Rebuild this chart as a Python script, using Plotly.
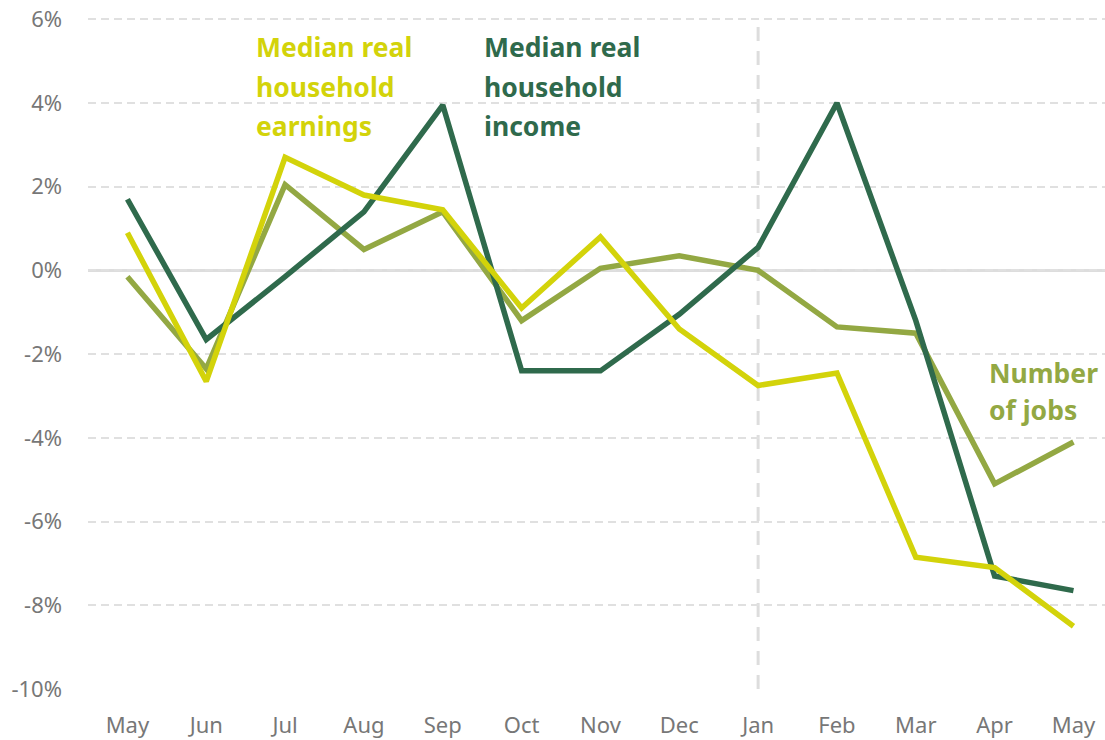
import plotly.graph_objects as go

months = ["May", "Jun", "Jul", "Aug", "Sep", "Oct", "Nov", "Dec", "Jan", "Feb", "Mar", "Apr", "May"]
income = [1.7, -1.65, -0.15, 1.4, 3.95, -2.4, -2.4, -1.05, 0.55, 4.0, -1.2, -7.3, -7.65]
earnings = [0.9, -2.65, 2.7, 1.8, 1.45, -0.9, 0.8, -1.4, -2.75, -2.45, -6.85, -7.1, -8.5]
jobs = [-0.15, -2.35, 2.05, 0.5, 1.4, -1.2, 0.05, 0.35, 0.0, -1.35, -1.5, -5.1, -4.1]
y_ticks = [-10, -8, -6, -4, -2, 0, 2, 4, 6]
y_tick_labels = ["-10%", "-8%", "-6%", "-4%", "-2%", "0%", "2%", "4%", "6%"]

C_INCOME = "#2f6a4c"
C_EARN = "#d3d30a"
C_JOBS = "#93a843"

x = list(range(len(months)))
fig = go.Figure()
fig.add_trace(go.Scatter(x=x, y=jobs, mode="lines", line=dict(color=C_JOBS, width=5.5), hoverinfo="skip"))
fig.add_trace(go.Scatter(x=x, y=income, mode="lines", line=dict(color=C_INCOME, width=5.5), hoverinfo="skip"))
fig.add_trace(go.Scatter(x=x, y=earnings, mode="lines", line=dict(color=C_EARN, width=5.5), hoverinfo="skip"))

fig.add_shape(type="line", x0=8, x1=8, y0=-10, y1=5.85, xref="x", yref="y",
              line=dict(color="#dddddd", width=3, dash="14px,10px"), layer="below")
fig.add_shape(type="line", x0=-0.5, x1=12.5, y0=0, y1=0, xref="x", yref="y",
              line=dict(color="#dddddd", width=3), layer="below")

font_lbl = dict(family="Noto Sans", size=26.5)
labels = [
    (1.61, [5.33, 4.39, 3.44], ["Median real", "household", "earnings"], C_EARN),
    (4.5, [5.33, 4.39, 3.44], ["Median real", "household", "income"], C_INCOME),
    (10.9, [-2.44, -3.34], ["Number", "of jobs"], C_JOBS),
]
for lx, ys, lines, col in labels:
    for ly, t in zip(ys, lines):
        fig.add_annotation(x=lx, y=ly, xanchor="left", yanchor="middle", showarrow=False,
                           text="<b>%s</b>" % t, font=dict(color=col, **font_lbl))

fig.update_layout(
    width=1105, height=740,
    margin=dict(l=88, r=0, t=18, b=51),
    paper_bgcolor="white", plot_bgcolor="white",
    showlegend=False,
    font=dict(family="Noto Sans", color="#777777", size=22),
    xaxis=dict(tickmode="array", tickvals=x, ticktext=months, range=[-0.5, 12.4],
               showgrid=False, zeroline=False, showline=False, ticks="", ticklabelstandoff=21,
               automargin=False, fixedrange=True),
    yaxis=dict(tickmode="array", tickvals=y_ticks, ticktext=y_tick_labels, range=[-10, 6.03],
               showgrid=True, gridcolor="#e0e0e0", griddash="8px,5px", gridwidth=1.5,
               zeroline=False, showline=False, ticks="", ticklabelstandoff=25,
               ticklabeloverflow="allow", automargin=False, fixedrange=True),
)

fig.write_html("out.html", config={"displayModeBar": False},
               post_script="document.body.style.margin='0';document.body.style.overflow='hidden';")
